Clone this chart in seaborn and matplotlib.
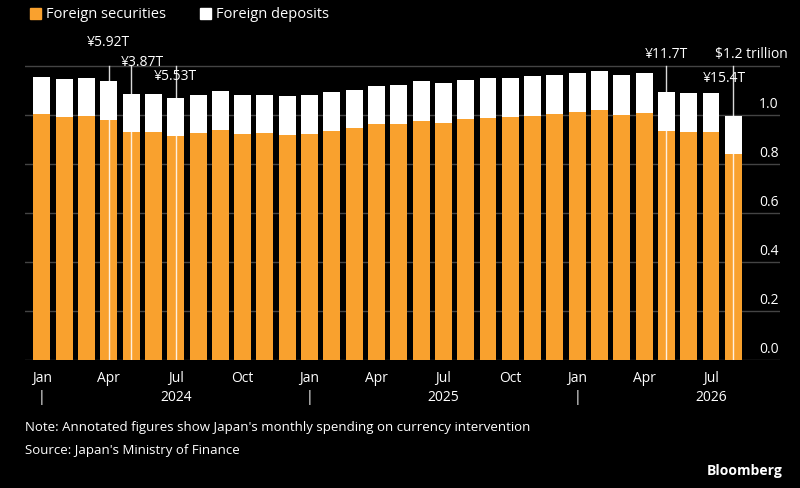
import matplotlib
matplotlib.use("Agg")
import matplotlib.pyplot as plt
import matplotlib.transforms as mtrans
import seaborn as sns
import pandas as pd
import numpy as np

months = pd.date_range("2024-01-01", periods=32, freq="MS")
total = [1.156,1.146,1.150,1.137,1.087,1.087,1.071,1.083,1.098,1.080,1.083,1.078,
         1.082,1.094,1.103,1.120,1.122,1.137,1.129,1.143,1.150,1.152,1.158,1.165,
         1.171,1.181,1.162,1.170,1.095,1.091,1.090,0.995]
securities = [1.003,0.992,0.996,0.981,0.929,0.929,0.913,0.925,0.940,0.922,0.925,0.920,
              0.922,0.935,0.946,0.963,0.963,0.977,0.967,0.984,0.989,0.990,0.997,1.004,
              1.011,1.020,1.001,1.007,0.933,0.929,0.929,0.842]
interv_idx = [3, 4, 6, 28, 31]
interv_lbl = ["¥5.92T", "¥3.87T", "¥5.53T", "¥11.7T", "¥15.4T"]
yticks = [0.0, 0.2, 0.4, 0.6, 0.8, 1.0]

ORANGE = "#f9a12e"
plt.rcParams["font.family"] = ["Open Sans", "DejaVu Sans"]
fig = plt.figure(figsize=(8, 4.89), dpi=100, facecolor="black")
ax = fig.add_axes([25/800, 1-361/489, 755/800, (361-54.75)/489])
ax.set_facecolor("black")
df = pd.DataFrame({"i": range(32), "total": total, "sec": securities})
for y in yticks + [1.2]:
    ax.axhline(y, color="#444444", lw=1, zorder=0)
sns.barplot(data=df, x="i", y="total", color="white", width=0.76, ax=ax, saturation=1, zorder=2)
sns.barplot(data=df, x="i", y="sec", color=ORANGE, width=0.76, ax=ax, saturation=1, zorder=3)
ax.set_xlim(-0.76, (780-42)/22.3)
ax.set_ylim(0, 1.25)
for s in ax.spines.values():
    s.set_visible(False)
ax.set_xlabel(""); ax.set_ylabel("")
ax.set_yticks([])
ax.tick_params(axis="x", length=0, colors="white", labelsize=10, pad=7)
ticks = [i for i in range(32) if months[i].month in (1, 4, 7, 10)]
ax.set_xticks(ticks)
ax.set_xticklabels([months[i].strftime("%b") for i in ticks])
tr = mtrans.blended_transform_factory(ax.transAxes, ax.transData)
for y in yticks:
    ax.text(0.9985, y+0.015, f"{y:.1f}", transform=tr, ha="right", va="bottom", color="white", fontsize=10)
# year labels
trx = mtrans.blended_transform_factory(ax.transData, fig.transFigure)
for i in range(32):
    if months[i].month == 1:
        ax.text(i, 1-398/489, "|", transform=trx, ha="center", va="center", color="white", fontsize=10)
    if months[i].month == 7:
        ax.text(i, 1-398/489, str(months[i].year), transform=trx, ha="center", va="center", color="white", fontsize=10)
# intervention lines and labels
lbl_pos = {3: (0.0, 1.3, "center"), 4: (0.5, 1.22, "center"), 6: (0.0, 1.16, "center"),
           28: (0.0, 1.25, "center"), 31: (-0.4, 1.155, "center")}
for idx, lbl in zip(interv_idx, interv_lbl):
    ax.plot([idx, idx], [0, 1.2], color="white", lw=1, zorder=4, alpha=0.85)
    dx, yy, ha = lbl_pos[idx]
    ax.text(idx+dx, yy, lbl, ha=ha, va="center", color="white", fontsize=10, clip_on=False)
ax.text(30.2, 1.25, "$1.2 trillion", ha="left", va="center", color="white", fontsize=10, clip_on=False)
# legend
for xx, col, lab in [(30, ORANGE, "Foreign securities"), (200, "white", "Foreign deposits")]:
    fig.patches.append(plt.Rectangle((xx/800, 1-20/489), 11/800, 11/489, color=col, transform=fig.transFigure))
    fig.text((xx+16)/800, 1-14/489, lab, color="white", fontsize=10.5, va="center")
fig.text(25/800, 1-428/489, "Note: Annotated figures show Japan's monthly spending on currency intervention",
         color="white", fontsize=9.5, va="center")
fig.text(25/800, 1-451/489, "Source: Japan's Ministry of Finance", color="white", fontsize=9.5, va="center")
fig.text(782/800, 1-471/489, "Bloomberg", color="white", fontsize=10, fontweight="bold", ha="right", va="center")
fig.savefig("out.png", dpi=100, facecolor="black")
